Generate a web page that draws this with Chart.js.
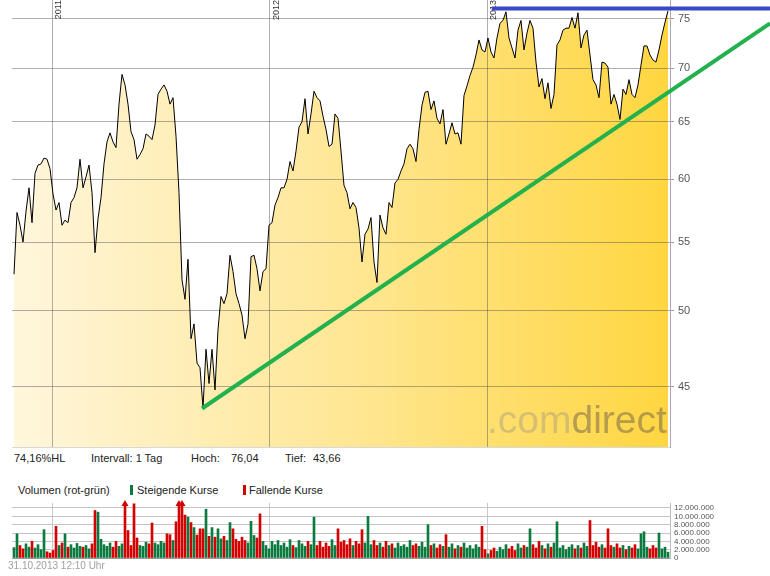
<!DOCTYPE html>
<html lang="de">
<head>
  <meta charset="UTF-8">
  <script src="https://cdn.jsdelivr.net/npm/chart.js"></script>
  <title>Kursverlauf</title>
  <style>
    body{margin:0; background:#fff; font-family:"Liberation Sans", Arial, sans-serif;}
    #wrap{position:relative; width:770px; height:576px; overflow:hidden; background:#fff;}
    #priceChart{position:absolute; left:0; top:0;}
    #volChart{position:absolute; left:0; top:498px;}
    .txt{position:absolute; font-size:11px; color:#222; white-space:nowrap; line-height:14px;}
    .mark{position:absolute; width:3px; height:10px;}
    #stamp{position:absolute; left:8px; top:560px; font-size:10px; color:#a0a0a0; white-space:nowrap;}
  </style>
  <script>
    // Schlusskurse (etwa alle 3-4 Handelstage), Nov 2010 - Okt 2013
    const closes = [
      52.6,57.3,56.3,55.0,57.4,59.3,56.5,60.5,61.2,61.3,61.8,61.7,60.9,58.8,57.5,58.1,56.3,56.7,56.5,58.1,
      58.5,59.3,61.7,59.3,60.2,61.2,58.9,54.2,56.8,58.5,61.3,63.2,64.0,63.2,62.7,66.6,69.4,68.4,66.6,64.1,
      63.4,61.7,62.1,62.6,63.9,63.7,63.4,64.7,67.5,68.0,68.4,67.8,66.6,67.2,63.7,58.9,52.2,50.8,53.7,48.1,
      49.1,46.5,46.2,43.7,47.4,45.2,47.4,44.8,48.7,51.0,50.5,51.2,54.0,52.8,51.2,50.5,49.7,48.1,49.1,53.9,
      54.0,53.0,51.4,52.8,53.0,56.3,56.5,57.9,58.5,59.3,59.3,60.0,61.5,60.7,62.4,64.5,65.0,67.1,63.9,65.7,
      67.8,67.2,66.9,65.5,64.3,62.8,63.0,65.7,65.3,62.4,59.5,58.9,57.6,58.1,57.7,56.1,53.5,55.6,56.0,56.9,
      53.5,52.0,57.1,56.1,55.6,58.1,57.7,59.7,60.0,60.7,61.3,62.6,63.0,62.6,61.5,64.3,66.5,67.7,67.8,66.1,
      66.9,65.3,64.8,66.1,63.0,63.9,64.9,63.9,64.0,63.0,67.4,68.3,69.3,70.1,71.3,72.8,71.8,71.6,73.0,71.6,
      71.0,73.0,74.5,74.8,75.7,73.0,72.0,71.0,73.8,74.8,71.8,73.5,74.8,74.0,70.6,68.2,69.0,67.1,68.6,66.2,
      67.5,72.3,72.8,73.8,74.0,74.0,75.1,74.0,75.6,72.0,73.3,73.8,71.3,68.9,68.4,67.2,70.6,70.5,70.1,66.6,
      67.5,66.6,65.2,68.0,67.5,68.9,67.5,67.2,68.4,70.3,72.2,72.2,71.3,70.8,70.6,71.8,73.3,74.6,75.8
    ];
    // Volumen in Mio. Stueck
    const volumes = [
      2.5,5.8,3.0,2.2,3.4,2.6,4.0,2.4,3.2,2.0,6.8,1.5,1.2,1.8,7.6,3.0,3.6,5.8,2.6,3.2,
      2.4,3.5,2.8,2.6,3.0,2.2,3.4,11.4,11.0,4.5,3.2,2.8,3.6,2.6,4.0,2.8,3.4,14.0,6.6,3.0,
      13.0,4.8,3.0,2.8,3.8,3.4,8.4,3.6,3.2,4.0,3.6,5.8,5.6,4.2,8.7,14.0,14.0,10.3,9.8,8.5,
      7.3,5.5,7.0,7.0,11.7,5.2,7.3,5.0,7.0,4.6,5.2,4.2,8.5,7.0,4.5,4.0,5.0,4.2,3.6,8.8,
      5.4,4.8,10.6,4.0,3.0,2.2,4.0,3.2,4.2,3.0,3.6,2.6,4.4,3.0,2.5,4.2,3.4,2.8,4.0,3.2,
      9.8,3.0,4.0,2.6,3.6,2.8,4.4,3.0,7.0,3.8,4.2,3.2,4.6,3.0,4.0,3.4,6.8,3.6,10.0,3.2,
      4.2,3.0,3.6,2.6,4.0,3.0,3.4,2.4,3.6,2.8,3.2,2.6,4.2,3.0,3.4,2.8,3.8,2.6,8.0,3.0,
      3.4,2.4,3.2,2.8,5.6,2.6,3.4,2.2,3.0,2.6,3.6,2.4,3.0,2.2,3.2,2.6,7.6,2.0,1.0,1.8,
      2.4,1.6,2.6,2.0,3.2,2.2,2.8,1.8,3.4,2.4,3.0,2.6,7.0,3.2,2.4,4.0,3.0,2.2,3.4,2.6,
      3.6,8.7,2.4,3.0,2.0,2.6,3.2,2.2,3.0,2.4,3.6,2.8,9.0,3.0,3.8,2.6,3.2,2.4,7.0,3.0,
      2.6,3.4,2.4,3.0,2.0,2.8,2.4,3.2,2.2,5.8,6.3,2.6,2.2,3.0,2.4,6.0,2.2,2.6,1.4
    ];
    const yearPos = [12.67, 85.33, 157.67];
    const yearLabels = ['2011', '2012', '2013'];
    const priceTicks = [45, 50, 55, 60, 65, 70, 75];
    const volTicks = [0, 2, 4, 6, 8, 10, 12];
    const highVal = 76.04;
    const lowVal = 43.66;
    const trendX = [62.67, 252];
    const trendY = [lowVal, 74.5];
    const highX = [159.3, 252];
    const highY = [highVal, highVal];

    const xMin = -0.67, xMax = 218.67;
    const gridCol = 'rgba(80,80,80,0.45)';

    // keine Extra-Raender fuer Achsen, damit der Plotbereich exakt sitzt
    const noPadY = s => { s.width = 100; s.paddingTop = 0; s.paddingBottom = 0; };
    const noPadX = s => { s.height = 0; s.paddingLeft = 0; s.paddingRight = 0; };

    window.onload = function(){
      const yearPlugin = {
        id: 'years',
        beforeDatasetsDraw(chart){
          const c = chart.ctx, xs = chart.scales.x;
          c.save();
          c.font = '9px "Liberation Sans", Arial, sans-serif';
          c.fillStyle = '#333';
          c.textAlign = 'right';
          c.textBaseline = 'top';
          yearPos.forEach((p, i) => {
            const px = xs.getPixelForValue(p);
            c.save();
            c.translate(px + 2, 0);
            c.rotate(-Math.PI / 2);
            c.fillText(yearLabels[i], 0, 0);
            c.restore();
          });
          c.restore();
        }
      };

      const logoPlugin = {
        id: 'logo',
        beforeDatasetsDraw(chart){
          const c = chart.ctx, a = chart.chartArea;
          c.save();
          c.font = '39px "Liberation Sans", Arial, sans-serif';
          c.textBaseline = 'alphabetic';
          c.textAlign = 'left';
          const x0 = a.right - 183, y0 = 433;
          c.fillStyle = 'rgba(150,145,135,0.4)';
          c.fillText('.com', x0, y0);
          const w = c.measureText('.com').width;
          c.fillStyle = 'rgba(120,105,75,0.55)';
          c.fillText('direct', x0 + w, y0);
          c.restore();
        }
      };

      const priceCtx = document.getElementById('priceChart');
      new Chart(priceCtx, {
        type: 'line',
        data: {
          datasets: [
            {
              data: trendX.map((x, i) => ({x: x, y: trendY[i]})),
              borderColor: '#22b14c', borderWidth: 4, pointRadius: 0, fill: false, clip: false
            },
            {
              data: highX.map((x, i) => ({x: x, y: highY[i]})),
              borderColor: '#3a47c6', borderWidth: 4, pointRadius: 0, fill: false, clip: false
            },
            {
              data: closes.map((v, i) => ({x: i, y: v})),
              borderColor: '#000', borderWidth: 1, pointRadius: 0, tension: 0,
              fill: 'start',
              backgroundColor: function(ctx){
                const a = ctx.chart.chartArea;
                if (!a) return 'rgba(0,0,0,0)';
                const g = ctx.chart.ctx.createLinearGradient(a.left, 0, a.right, 0);
                g.addColorStop(0, '#fff6dc');
                g.addColorStop(0.5, '#ffe796');
                g.addColorStop(1, '#ffd640');
                return g;
              }
            }
          ]
        },
        options: {
          responsive: false,
          animation: false,
          layout: {padding: {left: 12, top: 0, right: 0, bottom: 1}},
          plugins: {legend: {display: false}, tooltip: {enabled: false}, filler: {drawTime: 'beforeDraw'}},
          scales: {
            x: {
              type: 'linear', min: xMin, max: xMax,
              afterBuildTicks: s => { s.ticks = yearPos.map(v => ({value: v})); },
              afterFit: noPadX,
              ticks: {display: false},
              grid: {color: gridCol, drawTicks: false},
              border: {display: true, color: '#d8d8d8'}
            },
            y: {
              type: 'logarithmic', position: 'right', min: 41.39, max: 76.95,
              afterBuildTicks: s => { s.ticks = priceTicks.map(v => ({value: v})); },
              afterFit: noPadY,
              ticks: {
                callback: v => String(v), color: '#555', padding: 4,
                font: {size: 11, family: '"Liberation Sans", Arial, sans-serif'}
              },
              grid: {color: gridCol, tickLength: 4, tickColor: '#999'},
              border: {display: true, color: '#aaa'}
            }
          }
        },
        plugins: [yearPlugin, logoPlugin]
      });

      const volMax = 13.2;
      const upCol = '#0b7a3e', downCol = '#d40000';
      const barCols = closes.map((v, i) => (i === 0 || v >= closes[i - 1]) ? upCol : downCol);

      const arrowPlugin = {
        id: 'arrows',
        afterDatasetsDraw(chart){
          const c = chart.ctx, a = chart.chartArea;
          const meta = chart.getDatasetMeta(0);
          c.save();
          volumes.forEach((v, i) => {
            if (v <= volMax) return;
            const x = meta.data[i].x;
            c.fillStyle = barCols[i];
            c.beginPath();
            c.moveTo(x, a.top - 3);
            c.lineTo(x - 3.5, a.top + 3);
            c.lineTo(x + 3.5, a.top + 3);
            c.closePath();
            c.fill();
          });
          c.restore();
        }
      };

      const fmt = v => String(Math.round(v * 1000000)).replace(/\B(?=(\d{3})+(?!\d))/g, '.');

      const volCtx = document.getElementById('volChart');
      new Chart(volCtx, {
        type: 'bar',
        data: {
          datasets: [{
            data: volumes.map((v, i) => ({x: i, y: v})),
            backgroundColor: barCols,
            barThickness: 2
          }]
        },
        options: {
          responsive: false,
          animation: false,
          layout: {padding: {left: 12, top: 5, right: 0, bottom: 4}},
          plugins: {legend: {display: false}, tooltip: {enabled: false}},
          scales: {
            x: {
              type: 'linear', min: xMin, max: xMax, offset: false,
              afterBuildTicks: s => { s.ticks = yearPos.map(v => ({value: v})); },
              afterFit: noPadX,
              ticks: {display: false},
              grid: {color: '#c8c8c8', drawTicks: false, offset: false},
              border: {display: true, color: '#999'}
            },
            y: {
              position: 'right', min: 0, max: volMax,
              afterBuildTicks: s => { s.ticks = volTicks.map(v => ({value: v})); },
              afterFit: noPadY,
              ticks: {
                callback: v => fmt(v), color: '#555', padding: 4, autoSkip: false,
                font: {size: 8, family: '"Liberation Sans", Arial, sans-serif'}
              },
              grid: {color: '#c4c4c4', drawTicks: false},
              border: {display: true, color: '#bbb'}
            }
          }
        },
        plugins: [arrowPlugin]
      });
    };
  </script>
</head>
<body>
  <div id="wrap">
    <canvas id="priceChart" width="770" height="448"></canvas>
    <canvas id="volChart" width="770" height="64"></canvas>

    <div class="txt" style="left:14px; top:451px;">74,16%HL</div>
    <div class="txt" style="left:91px; top:451px;">Intervall: 1 Tag</div>
    <div class="txt" style="left:191px; top:451px;">Hoch:</div>
    <div class="txt" style="left:231px; top:451px;">76,04</div>
    <div class="txt" style="left:285px; top:451px;">Tief:</div>
    <div class="txt" style="left:313px; top:451px;">43,66</div>

    <div class="txt" style="left:18px; top:483px;">Volumen (rot-grün)</div>
    <div class="mark" style="left:130px; top:485px; background:#0b7a3e;"></div>
    <div class="txt" style="left:137px; top:483px;">Steigende Kurse</div>
    <div class="mark" style="left:243px; top:485px; background:#d40000;"></div>
    <div class="txt" style="left:249px; top:483px;">Fallende Kurse</div>

    <div id="stamp">31.10.2013 12:10 Uhr</div>
  </div>
</body>
</html>
